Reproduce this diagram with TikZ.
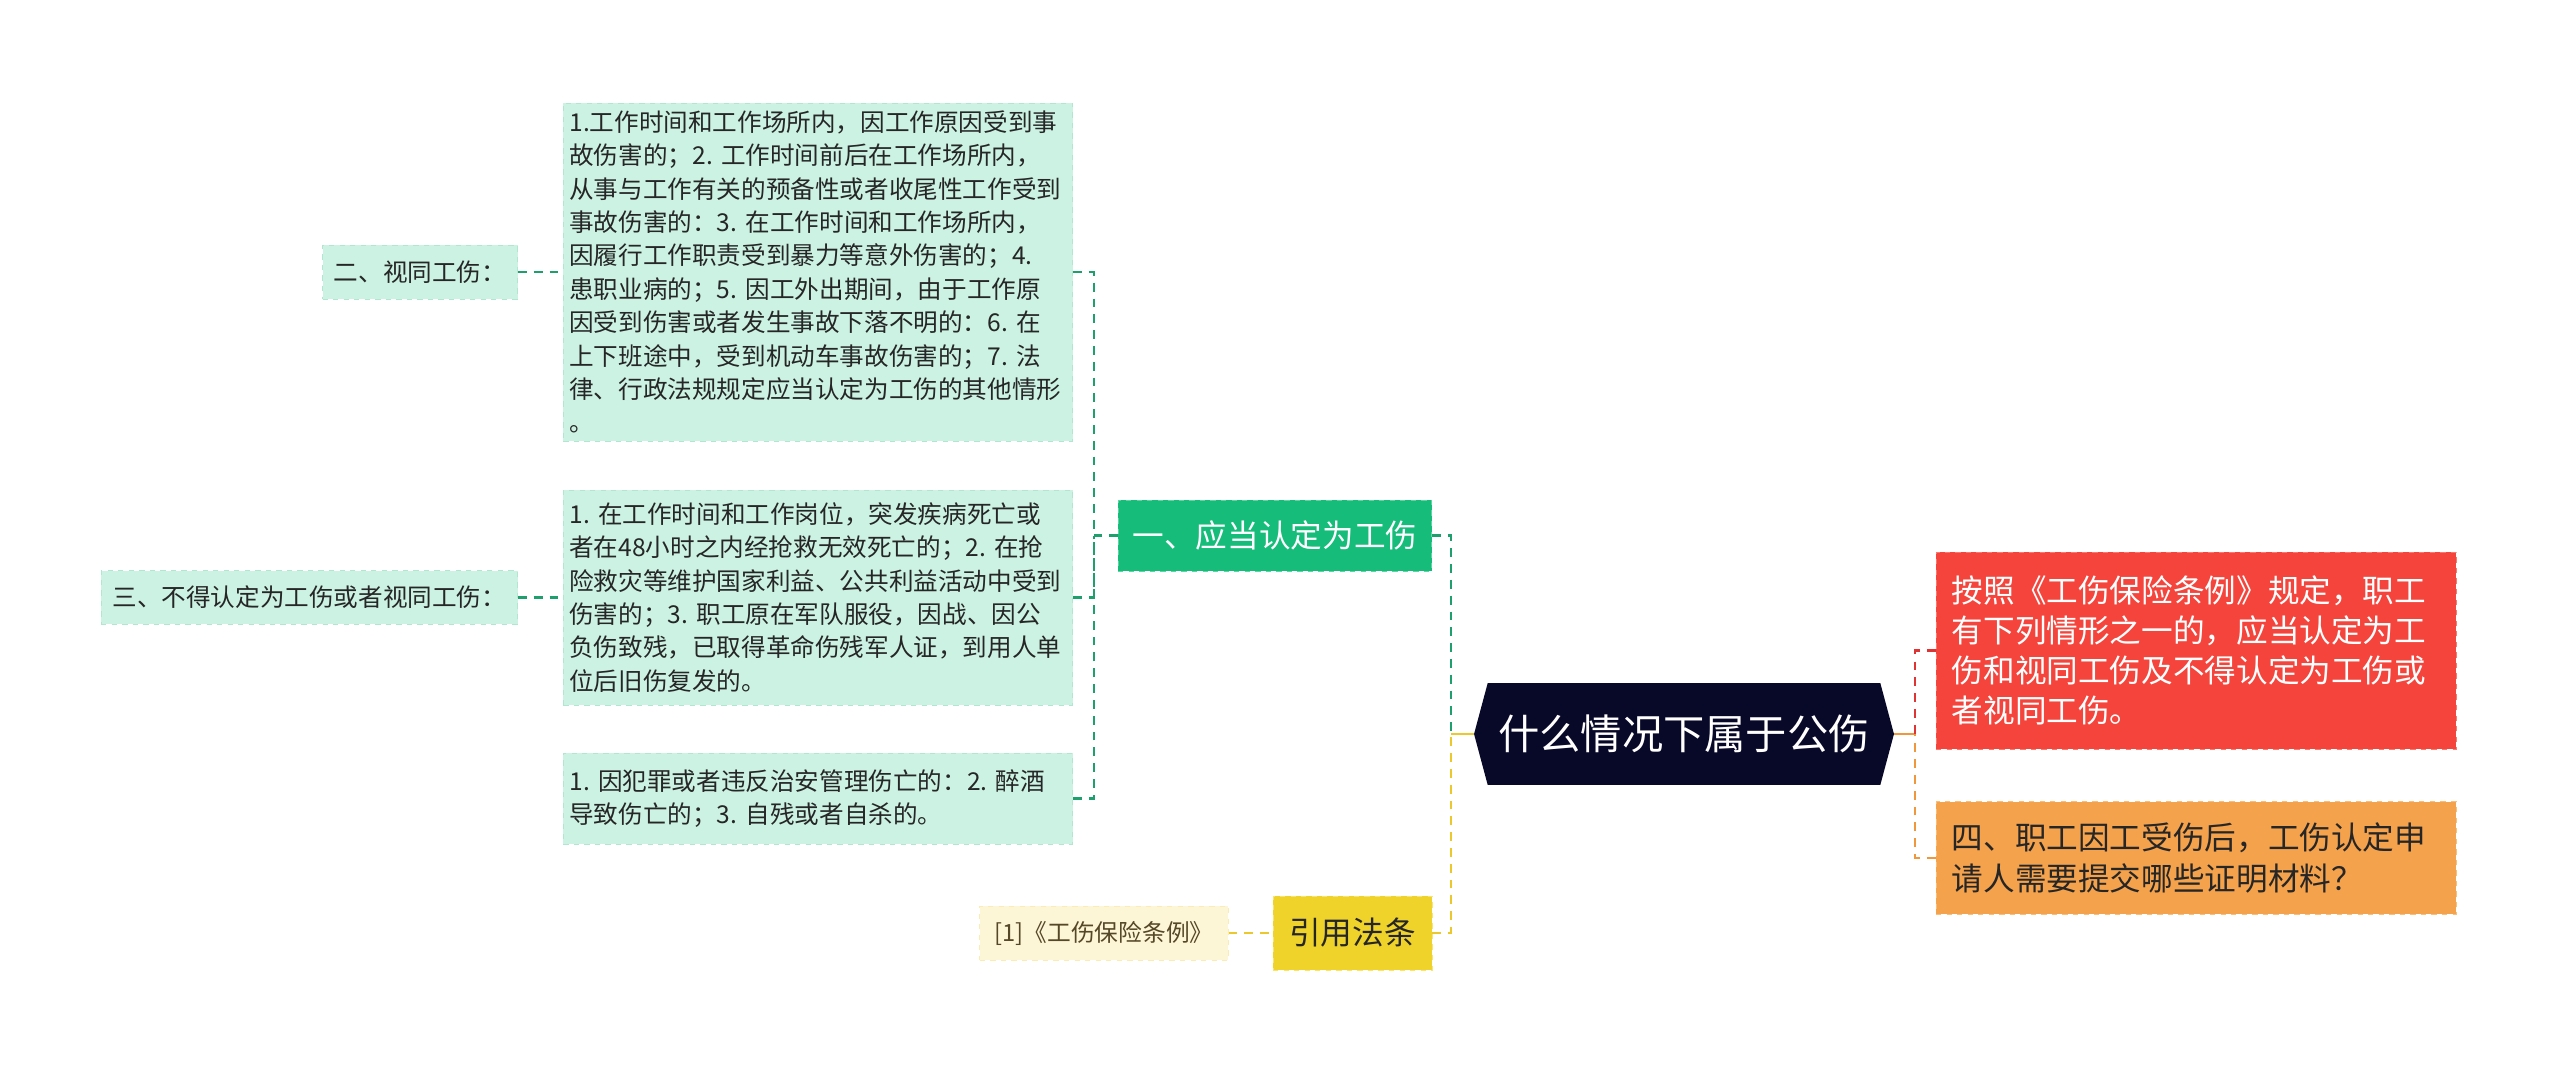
\documentclass[tikz,border=0pt]{standalone}
\usepackage{fontspec}
\setmainfont{Noto Sans CJK SC}
\usepackage{xcolor}
\usetikzlibrary{positioning,shapes.symbols}
\frenchspacing

\definecolor{rootnavy}{RGB}{8,8,40}
\definecolor{mintfill}{RGB}{204,242,227}
\definecolor{mintdraw}{RGB}{178,230,208}
\definecolor{greenfill}{RGB}{22,188,121}
\definecolor{greendraw}{RGB}{95,214,160}
\definecolor{greenlink}{RGB}{30,160,110}
\definecolor{yellowfill}{RGB}{240,211,42}
\definecolor{yellowdraw}{RGB}{248,228,110}
\definecolor{yellowlink}{RGB}{236,200,45}
\definecolor{creamfill}{RGB}{253,246,214}
\definecolor{creamdraw}{RGB}{250,236,180}
\definecolor{citetext}{RGB}{85,72,40}
\definecolor{redfill}{RGB}{245,68,60}
\definecolor{reddraw}{RGB}{250,120,110}
\definecolor{redlink}{RGB}{222,52,52}
\definecolor{orangefill}{RGB}{245,162,76}
\definecolor{orangedraw}{RGB}{250,190,120}
\definecolor{orangelink}{RGB}{240,150,60}

\tikzstyle{rootshape} = [signal, signal to=west and east, signal pointer angle=150, fill=rootnavy, text=white, minimum width=239pt, minimum height=58pt, inner sep=0pt, font=\fontsize{23.5}{28}\selectfont]
\tikzstyle{greenbox} = [rectangle, draw=greendraw, dashed, fill=greenfill, text=white, minimum width=178.5pt, minimum height=40.5pt, font=\fontsize{18}{22}\selectfont]
\tikzstyle{lawbox} = [rectangle, draw=yellowdraw, dashed, fill=yellowfill, text=black!85, minimum width=90.5pt, minimum height=42pt, font=\fontsize{18}{22}\selectfont]
\tikzstyle{citebox} = [rectangle, draw=creamdraw, dashed, fill=creamfill, text=citetext, minimum width=141.5pt, minimum height=30.7pt, font=\fontsize{13.5}{17}\selectfont]
\tikzstyle{listbox} = [rectangle, draw=mintdraw, dashed, fill=mintfill, text=black!85, text width=283pt, inner xsep=3.5pt, align=left, font=\fontsize{14}{19}\selectfont]
\tikzstyle{labelbox} = [rectangle, draw=mintdraw, dashed, fill=mintfill, text=black!85, inner xsep=6.5pt, minimum height=30.7pt, font=\fontsize{14}{19}\selectfont]
\tikzstyle{introbox} = [rectangle, draw=reddraw, dashed, fill=redfill, text=white, text width=278pt, inner xsep=9pt, align=left, minimum height=112pt, font=\fontsize{18}{22.9}\selectfont]
\tikzstyle{askbox} = [rectangle, draw=orangedraw, dashed, fill=orangefill, text=black!85, text width=278pt, inner xsep=9pt, align=left, minimum height=64pt, font=\fontsize{18}{22.9}\selectfont]
\tikzstyle{greenline} = [draw=greenlink, line width=1.3pt, dash pattern=on 5pt off 4pt]
\tikzstyle{yellowline} = [draw=yellowlink, line width=1.3pt, dash pattern=on 5pt off 4pt]
\tikzstyle{redline} = [draw=redlink, line width=1.3pt, dash pattern=on 5pt off 4pt]
\tikzstyle{orangeline} = [draw=orangelink, line width=1.3pt, dash pattern=on 5pt off 4pt]

\begin{document}
\begin{tikzpicture}[x=0.02cm, y=-0.02cm]

	\fill [white] (0,0) rectangle (2560,1073);

	\node (root) [rootshape] at (1684,734) {什么情况下属于公伤};

	\node (should) [greenbox] at (1275,535.5) {一、应当认定为工伤};
	\node (law) [lawbox] at (1352.5,933) {引用法条};
	\node (cite) [citebox, left=0.88cm of law] {[1]《工伤保险条例》};

	\node (samelist) [listbox, minimum height=192.3pt] at (818,272) {1.工作时间和工作场所内，因工作原因受到事\\故伤害的；2. 工作时间前后在工作场所内，\\从事与工作有关的预备性或者收尾性工作受到\\事故伤害的：3. 在工作时间和工作场所内，\\因履行工作职责受到暴力等意外伤害的；4.\\患职业病的；5. 因工外出期间，由于工作原\\因受到伤害或者发生事故下落不明的：6. 在\\上下班途中，受到机动车事故伤害的；7. 法\\律、行政法规规定应当认定为工伤的其他情形\\。};
	\node (notlist) [listbox, minimum height=122.3pt] at (818,597.5) {1. 在工作时间和工作岗位，突发疾病死亡或\\者在48小时之内经抢救无效死亡的；2. 在抢\\险救灾等维护国家利益、公共利益活动中受到\\伤害的；3. 职工原在军队服役，因战、因公\\负伤致残，已取得革命伤残军人证，到用人单\\位后旧伤复发的。};
	\node (exclude) [listbox, minimum height=51.8pt] at (818,798.5) {1. 因犯罪或者违反治安管理伤亡的：2. 醉酒\\导致伤亡的；3. 自残或者自杀的。};

	\node (same) [labelbox, left=0.9cm of samelist] {二、视同工伤：};
	\node (notlabel) [labelbox, left=0.9cm of notlist] {三、不得认定为工伤或者视同工伤：};

	\node (intro) [introbox] at (2196,650.5) {按照《工伤保险条例》规定，职工\\有下列情形之一的，应当认定为工\\伤和视同工伤及不得认定为工伤或\\者视同工伤。};
	\node (ask) [askbox] at (2196,858) {四、职工因工受伤后，工伤认定申\\请人需要提交哪些证明材料？};

	\coordinate (joinl) at (1451,734);
	\coordinate (joinm) at (1094,535.5);
	\coordinate (joinr) at (1915,734);

	\draw [yellowline, solid] (joinl) -- (root.west);
	\draw [greenline] (should.east) -| (joinl);
	\draw [yellowline] (law.east) -| (joinl);
	\draw [yellowline] (cite.east) -- (law.west);

	\draw [greenline] (should.west) -- (joinm);
	\draw [greenline] (samelist.east) -| (joinm);
	\draw [greenline] (notlist.east) -| (joinm);
	\draw [greenline] (exclude.east) -| (joinm);
	\draw [greenline] (same.east) -- (samelist.west);
	\draw [greenline] (notlabel.east) -- (notlist.west);

	\draw [orangeline, solid] (root.east) -- (joinr);
	\draw [redline] (intro.west) -| (joinr);
	\draw [orangeline] (ask.west) -| (joinr);

\end{tikzpicture}
\end{document}
